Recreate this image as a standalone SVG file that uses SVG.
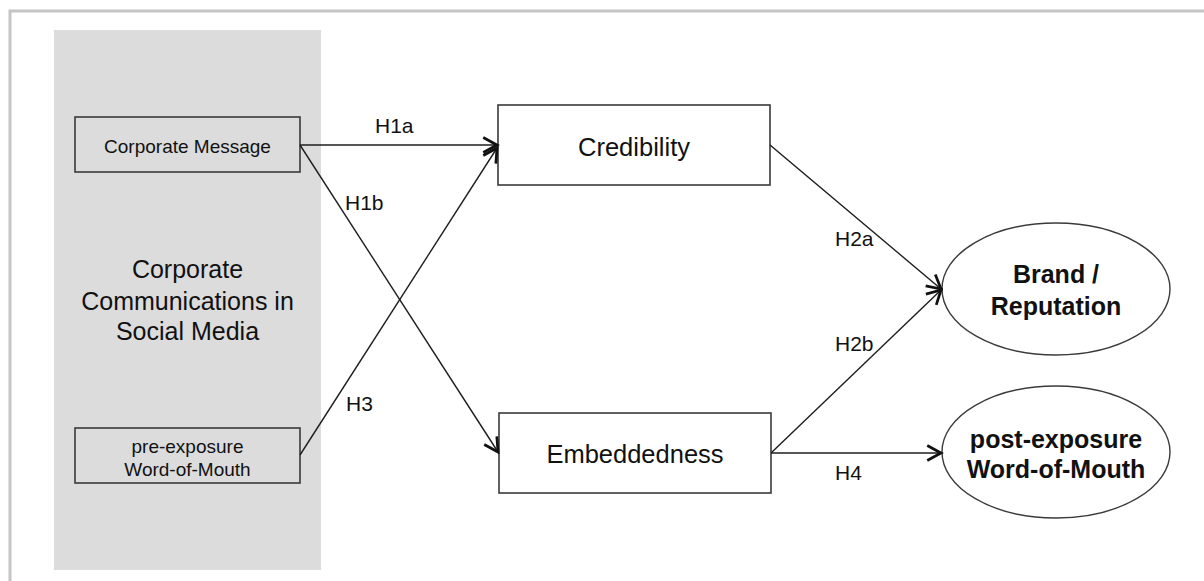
<svg xmlns="http://www.w3.org/2000/svg" width="1204" height="581" viewBox="0 0 1204 581">
<defs>
<style>
.box{fill:none;stroke:#3a3a3a;stroke-width:1.6}
.boxw{fill:#fff;stroke:#3a3a3a;stroke-width:1.6}
.t{font-family:"Liberation Sans",Arial,sans-serif;fill:#111;text-anchor:middle}
.lab{font-family:"Liberation Sans",Arial,sans-serif;fill:#111;font-size:21px}
.con{fill:none;stroke:#1e1e1e;stroke-width:1.4}
</style>
<marker id="arr" markerUnits="userSpaceOnUse" markerWidth="20" markerHeight="20" viewBox="-14 -8 16 16" refX="0" refY="0" orient="auto">
<path d="M-11,-6 L0,0 L-11,6" fill="none" stroke="#111" stroke-width="2.2" stroke-linejoin="miter"/>
</marker>
</defs>
<rect x="0" y="0" width="1204" height="581" fill="#fff"/>
<path d="M10,581 V11 H1204" fill="none" stroke="#c4c4c4" stroke-width="3"/>
<g id="panel">
<rect x="54" y="30" width="267" height="540" fill="#dcdcdc"/>
<text class="t" font-size="25" x="187.5" y="278">Corporate</text>
<text class="t" font-size="25" x="187.5" y="310">Communications in</text>
<text class="t" font-size="25" x="187.5" y="340">Social Media</text>
</g>
<g id="corporate-message">
<rect class="box" x="75" y="117" width="225" height="55"/>
<text class="t" font-size="19" x="187.5" y="153">Corporate Message</text>
</g>
<g id="pre-exposure">
<rect class="box" x="75" y="428" width="225" height="55"/>
<text class="t" font-size="19" x="187.5" y="453">pre-exposure</text>
<text class="t" font-size="19" x="187.5" y="476">Word-of-Mouth</text>
</g>
<g id="credibility">
<rect class="boxw" x="498" y="105" width="272" height="80"/>
<text class="t" font-size="25.5" x="634" y="156">Credibility</text>
</g>
<g id="embeddedness">
<rect class="boxw" x="499" y="413" width="272" height="80"/>
<text class="t" font-size="25.5" x="635" y="463">Embeddedness</text>
</g>
<g id="brand-reputation">
<ellipse cx="1056" cy="289" rx="114" ry="66" fill="#fff" stroke="#3a3a3a" stroke-width="1.4"/>
<text class="t" font-size="25" font-weight="bold" x="1056" y="283">Brand /</text>
<text class="t" font-size="25" font-weight="bold" x="1056" y="315">Reputation</text>
</g>
<g id="post-exposure">
<ellipse cx="1056" cy="452" rx="114" ry="66" fill="#fff" stroke="#3a3a3a" stroke-width="1.4"/>
<text class="t" font-size="25" font-weight="bold" x="1056" y="448">post-exposure</text>
<text class="t" font-size="25" font-weight="bold" x="1056" y="478">Word-of-Mouth</text>
</g>
<g id="connectors">
<line class="con" x1="300" y1="145" x2="497" y2="145" marker-end="url(#arr)"/>
<line class="con" x1="300" y1="145" x2="498" y2="452" marker-end="url(#arr)"/>
<line class="con" x1="300" y1="455" x2="497" y2="148" marker-end="url(#arr)"/>
<line class="con" x1="770" y1="145" x2="941" y2="289" marker-end="url(#arr)"/>
<line class="con" x1="771" y1="453" x2="941" y2="290" marker-end="url(#arr)"/>
<line class="con" x1="771" y1="453" x2="941" y2="453" marker-end="url(#arr)"/>
<text class="lab" x="375" y="133">H1a</text>
<text class="lab" x="345" y="210">H1b</text>
<text class="lab" x="346" y="411">H3</text>
<text class="lab" x="835" y="246">H2a</text>
<text class="lab" x="835" y="351">H2b</text>
<text class="lab" x="835" y="480">H4</text>
</g>
</svg>
